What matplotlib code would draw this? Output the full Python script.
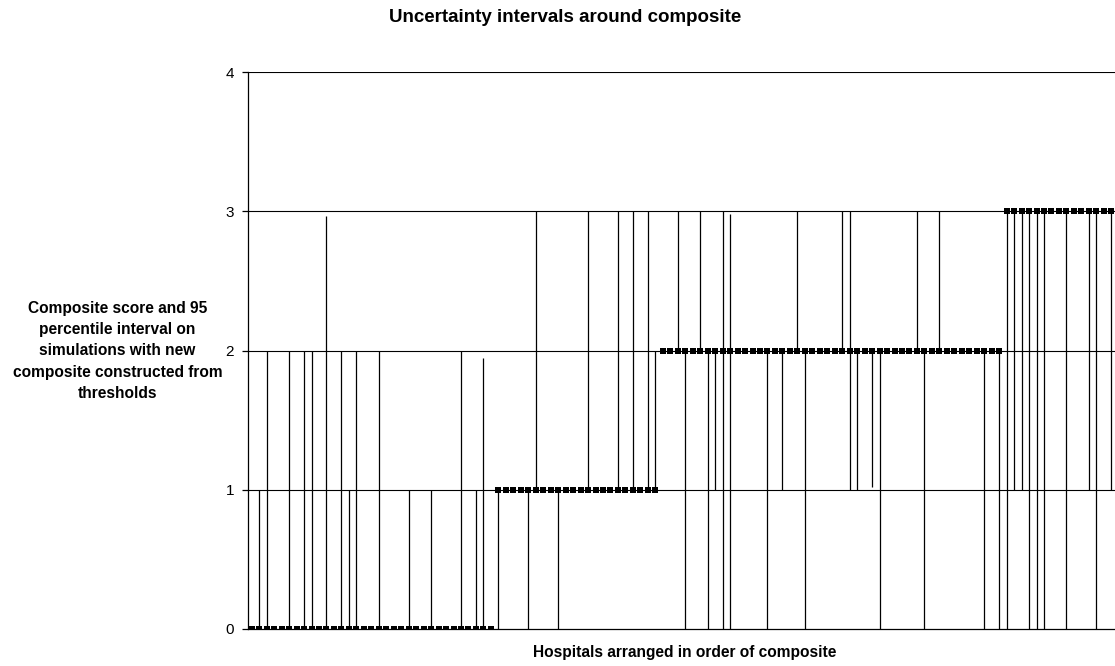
import matplotlib
matplotlib.use("Agg")
import matplotlib.pyplot as plt
import numpy as np

plt.rcParams['font.family'] = ['Liberation Sans', 'DejaVu Sans']

# Composite score per hospital (ordered)
composite = [0, 0, 0, 0, 0, 0, 0, 0, 0, 0,
             0, 0, 0, 0, 0, 0, 0, 0, 0, 0,
             0, 0, 0, 0, 0, 0, 0, 0, 0, 0,
             0, 0, 0,
             1, 1, 1, 1, 1, 1, 1, 1, 1, 1,
             1, 1, 1, 1, 1, 1, 1, 1, 1, 1,
             1, 1,
             2, 2, 2, 2, 2, 2, 2, 2, 2, 2,
             2, 2, 2, 2, 2, 2, 2, 2, 2, 2,
             2, 2, 2, 2, 2, 2, 2, 2, 2, 2,
             2, 2, 2, 2, 2, 2, 2, 2, 2, 2,
             2, 2, 2, 2, 2, 2,
             3, 3, 3, 3, 3, 3, 3, 3, 3, 3,
             3, 3, 3, 3, 3]

# Lower bound of 95 percentile interval
lower = [0, 0, 0, 0, 0, 0, 0, 0, 0, 0,
         0, 0, 0, 0, 0, 0, 0, 0, 0, 0,
         0, 0, 0, 0, 0, 0, 0, 0, 0, 0,
         0, 0, 0,
         0, 1, 1, 1, 0, 1, 1, 1, 0, 1,
         1, 1, 1, 1, 1, 1, 1, 1, 1, 1,
         1, 1,
         2, 2, 2, 0, 2, 2, 0, 1, 0, 0,
         2, 2, 2, 2, 0, 2, 1, 2, 2, 0,
         2, 2, 2, 2, 2, 1, 1, 2, 1.02, 0,
         2, 2, 2, 2, 2, 0, 2, 2, 2, 2,
         2, 2, 2, 0, 2, 0,
         0, 1, 1, 0, 0, 0, 3, 3, 0, 3,
         3, 1, 0, 3, 1]

# Upper bound of 95 percentile interval
upper = [0, 1, 2, 0, 0, 2, 0, 2, 2, 0,
         2.97, 0, 2, 1, 2, 0, 0, 2, 0, 0,
         0, 1, 0, 0, 1, 0, 0, 0, 2, 0,
         1, 1.95, 0,
         1, 1, 1, 1, 1, 3, 1, 1, 1, 1,
         1, 1, 3, 1, 1, 1, 3, 1, 3, 1,
         3, 2,
         2, 2, 3, 2, 2, 3, 2, 2, 3, 2.98,
         2, 2, 2, 2, 2, 2, 2, 2, 3, 2,
         2, 2, 2, 2, 3, 3, 2, 2, 2, 2,
         2, 2, 2, 2, 3, 2, 2, 3, 2, 2,
         2, 2, 2, 2, 2, 2,
         3, 3, 3, 3, 3, 3, 3, 3, 3, 3,
         3, 3, 3, 3, 3]

yticks = [0, 1, 2, 3, 4]

W, H = 1115, 666
fig = plt.figure(figsize=(W / 100, H / 100), dpi=100)
ax = fig.add_axes([248 / W, (H - 629) / H, (W - 248) / W, (629 - 72.3) / H])

x = np.arange(len(composite))
ax.vlines(x, lower, upper, colors='black', linewidth=0.9, zorder=2)
ax.plot(x, composite, linestyle='none', marker='s', markersize=4.5,
        markerfacecolor='black', markeredgewidth=0, color='black', zorder=3)

ax.set_xlim(-0.5, len(composite) - 0.5)
ax.set_ylim(0, 4)
ax.set_yticks(yticks)
ax.set_yticklabels([str(v) for v in yticks], fontsize=11)
ax.set_xticks([])
for v in yticks[1:]:
    ax.axhline(v, color='black', linewidth=0.8, zorder=1)

ax.spines['top'].set_visible(False)
ax.spines['right'].set_visible(False)
ax.spines['left'].set_linewidth(0.9)
ax.spines['bottom'].set_linewidth(0.9)
ax.tick_params(axis='y', direction='out', length=4, width=0.9, pad=6)

fig.text(565 / W, 1 - 17 / H, 'Uncertainty intervals around composite',
         ha='center', va='center', fontsize=13.5, fontweight='bold')
fig.text(117.5 / W, 1 - 351 / H,
         'Composite score and 95\npercentile interval on\nsimulations with new\n'
         'composite constructed from\nthresholds',
         ha='center', va='center', fontsize=11.2, fontweight='bold',
         linespacing=1.53)
fig.text(685 / W, 1 - 653 / H, 'Hospitals arranged in order of composite',
         ha='center', va='center', fontsize=11.2, fontweight='bold')

fig.savefig('out.png', dpi=100)
